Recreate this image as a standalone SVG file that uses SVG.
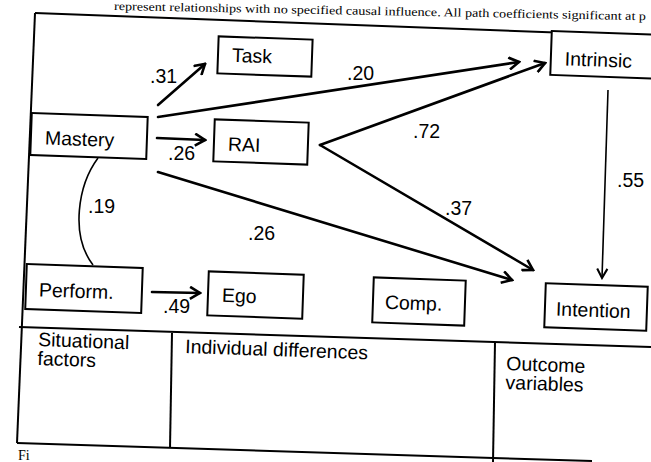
<svg xmlns="http://www.w3.org/2000/svg" width="651" height="462" viewBox="0 0 651 462">
<defs>
<style>
.bx{fill:#fff;stroke:#000;stroke-width:2}
.t{font-family:"Liberation Sans",Arial,sans-serif;font-size:19.5px;fill:#000}
.lb{font-family:"Liberation Sans",Arial,sans-serif;font-size:19.5px;fill:#000}
.c{fill:none;stroke:#000;stroke-width:2.6;stroke-linecap:round}
.thin{fill:none;stroke:#000;stroke-width:1.6}
.fr{fill:none;stroke:#000;stroke-width:2}
.cap{font-family:"Liberation Serif","Times New Roman",serif;font-size:12px;fill:#000}
</style>
<marker id="arr" viewBox="0 0 14 14" markerWidth="14" markerHeight="14" refX="12" refY="7" orient="auto" markerUnits="userSpaceOnUse">
<path d="M2,1 L12,7 L2,13" fill="none" stroke="#000" stroke-width="2.6"/>
</marker>
<marker id="arr2" viewBox="0 0 14 14" markerWidth="13" markerHeight="13" refX="12" refY="7" orient="auto" markerUnits="userSpaceOnUse">
<path d="M2,1.5 L12,7 L2,12.5" fill="none" stroke="#000" stroke-width="2.2"/>
</marker>
</defs>
<rect width="651" height="462" fill="#fff"/>

<text class="cap" x="114" y="10" transform="rotate(1.1 114 10)" textLength="532" lengthAdjust="spacingAndGlyphs">represent relationships with no specified causal influence. All path coefficients significant at p</text>

<g id="frame">
<polyline class="fr" points="35,13 651,36"/>
<polyline class="fr" points="35,13 17,443"/>
<polyline class="fr" points="17,443 493,458 592,461"/>
<polyline class="fr" points="19,327 651,347"/>
<polyline class="fr" points="172,333 170,448"/>
<polyline class="fr" points="495,342 493,462"/>
</g>

<g id="connectors">
<line class="c" x1="158" y1="105" x2="205" y2="64" marker-end="url(#arr)"/>
<line class="c" x1="158" y1="117" x2="519" y2="62" marker-end="url(#arr)"/>
<line class="c" x1="157" y1="138" x2="205" y2="140" marker-end="url(#arr)"/>
<line class="c" x1="158" y1="172" x2="512" y2="280" marker-end="url(#arr)"/>
<line class="c" x1="320" y1="145" x2="545" y2="63" marker-end="url(#arr)"/>
<line class="c" x1="320" y1="145" x2="533" y2="270" marker-end="url(#arr)"/>
<line class="thin" x1="608" y1="90" x2="602" y2="278" marker-end="url(#arr2)"/>
<line class="c" x1="152" y1="292" x2="200" y2="293" marker-end="url(#arr)"/>
<path class="thin" d="M98,158 C78,185 70,235 93,265"/>
</g>

<g id="labels">
<text class="lb" x="150" y="83">.31</text>
<text class="lb" x="347" y="80">.20</text>
<text class="lb" x="168" y="160">.26</text>
<text class="lb" x="413" y="138">.72</text>
<text class="lb" x="445" y="215">.37</text>
<text class="lb" x="248" y="240">.26</text>
<text class="lb" x="617" y="187">.55</text>
<text class="lb" x="88" y="213">.19</text>
<text class="lb" x="163" y="313">.49</text>
</g>

<g id="task" transform="rotate(2 265 56)"><rect class="bx" x="218" y="38" width="94" height="37"/><text class="t" x="232" y="63">Task</text></g>
<g id="mastery" transform="rotate(2 89 136)"><rect class="bx" x="31" y="115" width="116" height="42"/><text class="t" x="45" y="146">Mastery</text></g>
<g id="rai" transform="rotate(2 261 142)"><rect class="bx" x="214" y="121" width="94" height="42"/><text class="t" x="228" y="152">RAI</text></g>
<g id="intrinsic" transform="rotate(2 611 55)"><rect class="bx" x="551" y="33" width="120" height="44"/><text class="t" x="565" y="67">Intrinsic</text></g>
<g id="perform" transform="rotate(2 84 288)"><rect class="bx" x="26" y="266" width="116" height="45"/><text class="t" x="39" y="298">Perform.</text></g>
<g id="ego" transform="rotate(2 255 295)"><rect class="bx" x="208" y="273" width="95" height="44"/><text class="t" x="222" y="303">Ego</text></g>
<g id="comp" transform="rotate(2 419 301)"><rect class="bx" x="373" y="279" width="92" height="45"/><text class="t" x="385" y="310">Comp.</text></g>
<g id="intention" transform="rotate(2 596 307)"><rect class="bx" x="545" y="285" width="102" height="44"/><text class="t" x="556" y="317">Intention</text></g>

<g id="sections">
<g transform="rotate(2 38 346)"><text class="t" x="38" y="346">Situational</text><text class="t" x="38" y="365">factors</text></g>
<text class="t" x="185" y="353" transform="rotate(2 185 353)">Individual differences</text>
<g transform="rotate(2 506 370)"><text class="t" x="506" y="370">Outcome</text><text class="t" x="506" y="389">variables</text></g>
</g>
<text class="cap" x="18" y="460" style="font-size:14px">Fi</text>
</svg>
